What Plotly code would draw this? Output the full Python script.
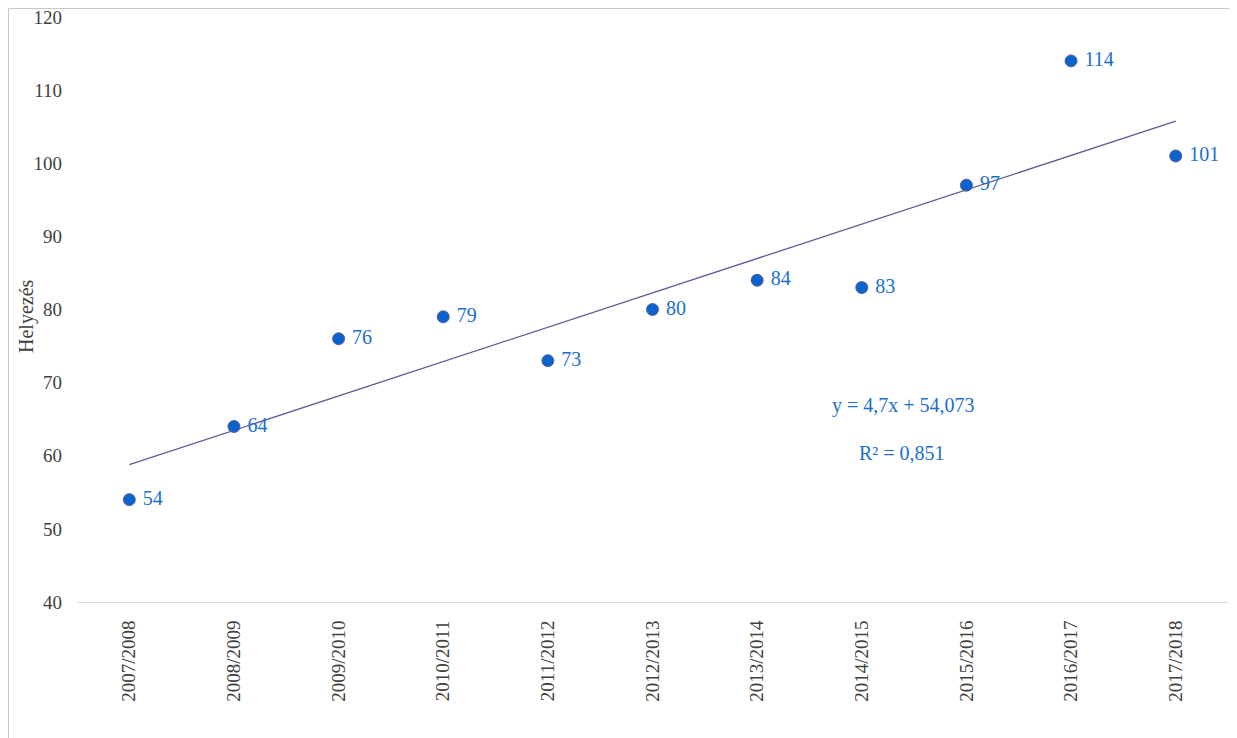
import numpy as np
import plotly.graph_objects as go

seasons = ["2007/2008", "2008/2009", "2009/2010", "2010/2011", "2011/2012", "2012/2013",
           "2013/2014", "2014/2015", "2015/2016", "2016/2017", "2017/2018"]
helyezes = [54, 64, 76, 79, 73, 80, 84, 83, 97, 114, 101]
y_ticks = [40, 50, 60, 70, 80, 90, 100, 110, 120]
r2_label = "0,851"

# linear trend fitted on the data (index 1..n)
idx = np.arange(1, len(helyezes) + 1)
slope, intercept = np.polyfit(idx, helyezes, 1)
trend = slope * idx + intercept

font_family = "Liberation Serif, Times New Roman, serif"

fig = go.Figure()
fig.add_trace(go.Scatter(
    x=seasons, y=trend, mode="lines",
    line=dict(color="#5b5b9b", width=1.3),
    hoverinfo="skip", showlegend=False,
))
fig.add_trace(go.Scatter(
    x=seasons, y=helyezes, mode="markers+text",
    marker=dict(color="#0a63cf", size=12, line=dict(color="#5f5f8f", width=1)),
    text=[" " + str(v) for v in helyezes], textposition="middle right",
    textfont=dict(family=font_family, size=20, color="#1a6fd0"),
    showlegend=False,
))

# page offset of the plotly div (body margin)
OFF = 8
W, H = 1237 - OFF, 738 - OFF
plot_l, plot_r, plot_t, plot_b = 77 - OFF, 1228 - OFF, 17 - OFF, 602 - OFF
ml, mr, mt, mb = plot_l, W - plot_r, plot_t, H - plot_b
pw, ph = plot_r - plot_l, plot_b - plot_t


def px(xp):
    return (xp - OFF - plot_l) / pw


def py(yp):
    return (plot_b - (yp - OFF)) / ph


fig.update_layout(
    width=W, height=H,
    margin=dict(l=ml, r=mr, t=mt, b=mb),
    paper_bgcolor="white", plot_bgcolor="white",
    font=dict(family=font_family, size=19, color="#404040"),
    xaxis=dict(
        type="category", showgrid=False, zeroline=False, automargin=False,
        showline=True, linecolor="#d9d9d9", linewidth=1,
        tickangle=-90, ticks="", ticklabelstandoff=10,
        tickfont=dict(size=19, color="#404040"),
        range=[-0.5, len(seasons) - 0.5],
    ),
    yaxis=dict(
        range=[40, 120], tickvals=y_ticks, showgrid=False, zeroline=False,
        showline=False, ticks="", ticklabelstandoff=14, automargin=False,
        ticklabeloverflow="allow",
        tickfont=dict(size=19, color="#404040"),
    ),
    annotations=[
        dict(text="Helyezés", textangle=-90, x=px(26), y=py(316),
             xref="paper", yref="paper", showarrow=False,
             font=dict(size=20, color="#404040"), xanchor="center", yanchor="middle"),
        dict(text=f"y = {slope:.1f}x + {intercept:.3f}".replace(".", ","),
             x=px(903), y=py(405), xref="paper", yref="paper",
             xanchor="center", yanchor="middle",
             showarrow=False, font=dict(size=20, color="#1a6fd0")),
        dict(text=f"R² = {r2_label}",
             x=px(902), y=py(453), xref="paper", yref="paper",
             xanchor="center", yanchor="middle",
             showarrow=False, font=dict(size=20, color="#1a6fd0")),
    ],
    shapes=[dict(type="rect", xref="paper", yref="paper",
                 x0=px(8.5), x1=px(1235),
                 y0=py(745), y1=py(8.5),
                 line=dict(color="#c8c8c8", width=1), fillcolor="rgba(0,0,0,0)", layer="below")],
)

fig.write_html("out.html")
